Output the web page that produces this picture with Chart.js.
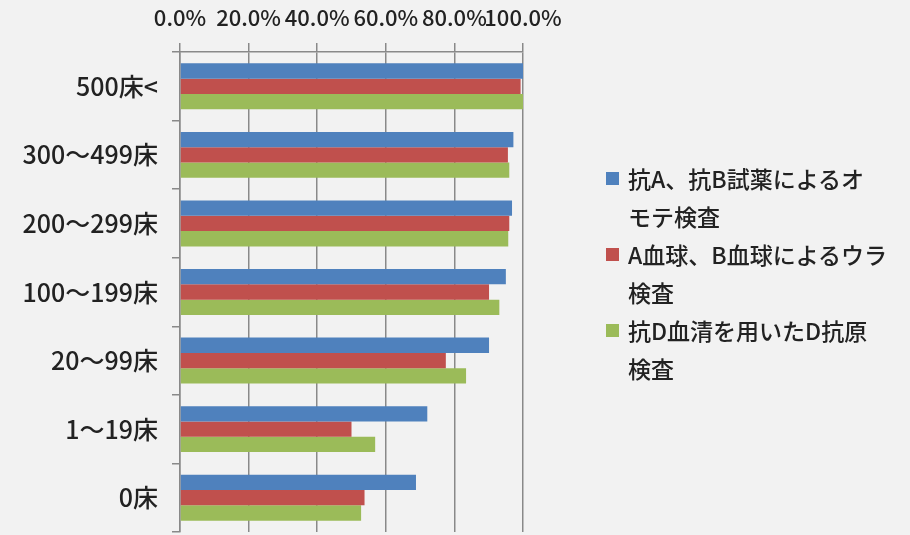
<!DOCTYPE html>
<html>
<head>
<meta charset="utf-8">
<script src="https://cdn.jsdelivr.net/npm/chart.js@4/dist/chart.umd.min.js"></script>
<style>
  html, body { margin: 0; padding: 0; background: #f2f2f2; }
  #wrap { position: relative; width: 910px; height: 535px; }
  #c { position: absolute; left: 0; top: 0; }
  #legend { position: absolute; left: 606px; top: 159px; font-family: 'Noto Sans CJK JP', sans-serif; font-weight: 500; font-size: 23px; line-height: 38px; color: #222; }
  .item { position: relative; padding-left: 22px; white-space: pre; }
  .sw { position: absolute; left: 0; top: 13px; width: 13px; height: 13px; }
</style>
</head>
<body>
<div id="wrap"><canvas id="c" width="910" height="535"></canvas><div id="legend"></div></div>
<script>
const categories = ['500床<', '300〜499床', '200〜299床', '100〜199床', '20〜99床', '1〜19床', '0床'];
const seriesNames = ['抗A、抗B試薬によるオモテ検査', 'A血球、B血球によるウラ検査', '抗D血清を用いたD抗原検査'];
const legendBreaks = [11, 12, 11];
const omoteValues = [100.0, 97.2, 96.8, 95.0, 90.1, 72.1, 68.8];
const uraValues   = [99.3, 95.6, 96.0, 90.1, 77.5, 50.0, 53.8];
const dValues     = [100.0, 96.0, 95.7, 93.1, 83.4, 56.9, 52.8];
const xTicks = [0, 20, 40, 60, 80, 100];
const colors = ['#4f81bd', '#c0504d', '#9bbb59'];

const FONT = "'Noto Sans CJK JP', sans-serif";
const gridColor = '#898989';

const chart = new Chart(document.getElementById('c'), {
  type: 'bar',
  data: {
    labels: categories,
    datasets: [omoteValues, uraValues, dValues].map((v, i) => ({
      label: seriesNames[i],
      data: v,
      backgroundColor: colors[i],
      borderWidth: 0,
      categoryPercentage: 0.67,
      barPercentage: 1.0
    }))
  },
  options: {
    indexAxis: 'y',
    responsive: false,
    animation: false,
    layout: { padding: { left: 0, top: 0, right: 387, bottom: 3 } },
    plugins: { legend: { display: false }, tooltip: { enabled: false } },
    scales: {
      x: {
        position: 'top',
        min: 0, max: 100,
        afterBuildTicks: (s) => { s.ticks = xTicks.map(v => ({ value: v })); },
        afterFit: (s) => { s.height = 52; },
        ticks: {
          callback: (v) => Number(v).toFixed(1) + '%',
          font: { family: FONT, size: 22, weight: 500 },
          color: '#222',
          padding: 12,
          maxRotation: 0,
          autoSkip: false
        },
        grid: { color: gridColor, lineWidth: 1.5, tickLength: 9, drawOnChartArea: true },
        border: { display: true, color: gridColor, width: 1.5 }
      },
      y: {
        afterFit: (s) => { s.width = 180; s.paddingTop = 0; s.paddingBottom = 0; },
        ticks: {
          font: { family: FONT, size: 25, weight: 500 },
          color: '#222',
          padding: 14
        },
        grid: { color: gridColor, lineWidth: 1.5, tickLength: 8, drawOnChartArea: false, offset: true },
        border: { display: true, color: gridColor, width: 1.5 }
      }
    }
  }
});

const lg = document.getElementById('legend');
chart.data.datasets.forEach((ds, i) => {
  const d = document.createElement('div');
  d.className = 'item';
  const sw = document.createElement('span');
  sw.className = 'sw';
  sw.style.background = ds.backgroundColor;
  d.appendChild(sw);
  const name = ds.label;
  d.appendChild(document.createTextNode(name.slice(0, legendBreaks[i]) + '\n' + name.slice(legendBreaks[i])));
  lg.appendChild(d);
});
</script>
</body>
</html>
